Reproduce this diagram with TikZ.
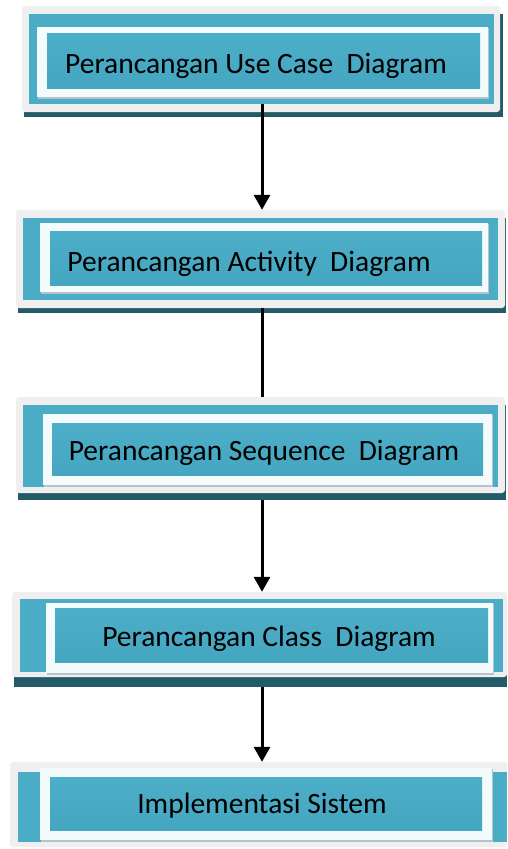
\documentclass[tikz,border=0pt]{standalone}
\usepackage{fontspec}
\setmainfont{Carlito}
\usetikzlibrary{arrows.meta,fit}
\definecolor{frameGray}{HTML}{EFEFEF}
\definecolor{boxBlue}{HTML}{4BACC6}
\definecolor{innerBlue}{HTML}{4DAEC8}
\definecolor{innerBlueDark}{HTML}{44A6C0}
\definecolor{whiteFrame}{HTML}{F3FBFD}
\definecolor{shadowDark}{HTML}{245B69}
\definecolor{softShadow}{HTML}{B4C4C8}
\tikzset{
  grayframe/.style={fill=frameGray, rounded corners=3pt, inner sep=0pt},
  darkshadow/.style={fill=shadowDark},
  bluebox/.style={fill=boxBlue, inner sep=0pt},
  whitebox/.style={fill=whiteFrame, inner sep=0pt},
  innerbox/.style={top color=innerBlue, bottom color=innerBlueDark, inner sep=0pt},
  label/.style={font=\fontsize{29.5}{34}\selectfont, text=black},
  flow/.style={line width=3pt, draw=black},
  tip/.style={-{Triangle[width=16pt,length=15pt]}}
}
\begin{document}
\begin{tikzpicture}[x=1pt,y=-1pt]
\useasboundingbox (0,0) rectangle (507,849);
\fill[white] (0,0) rectangle (507,849);

% Box 1
\fill[darkshadow] (24,14) rectangle (503,117);
\node[grayframe, fit={(22,6)(500,112)}] (g1) {};
\node[bluebox, fit={(29,14)(494,104)}] (b1) {};
\fill[softShadow] (38,28) rectangle (489,99);
\node[whitebox, fit={(37,27)(488,97)}] (w1) {};
\node[innerbox, fit={(47,33)(480,88)}] (i1) {};
\node[label] (t1) at (256,66) {Perancangan Use Case\ \ Diagram};

% Box 2
\fill[darkshadow] (18,218) rectangle (506,313);
\node[grayframe, fit={(16,210)(505,308)}] (g2) {};
\node[bluebox, fit={(23,218)(498,300)}] (b2) {};
\fill[softShadow] (41,224) rectangle (489,294);
\node[whitebox, fit={(40,223)(488,292)}] (w2) {};
\node[innerbox, fit={(50,231)(482,285)}] (i2) {};
\node[label] (t2) at (249,264) {Perancangan Activity\ \ Diagram};

% Box 3
\fill[darkshadow] (18,405) rectangle (506,500);
\node[grayframe, fit={(16,397)(505,493)}] (g3) {};
\node[bluebox, fit={(23,405)(498,487)}] (b3) {};
\fill[softShadow] (44,415) rectangle (493,487);
\node[whitebox, fit={(43,414)(492,485)}] (w3) {};
\node[innerbox, fit={(52,423)(483,475)}] (i3) {};
\node[label] (t3) at (264,453) {Perancangan Sequence\ \ Diagram};

% Box 4
\fill[darkshadow] (14,599) rectangle (507,687);
\node[grayframe, fit={(12,592)(507,677)}] (g4) {};
\node[bluebox, fit={(20,599)(503,672)}] (b4) {};
\fill[softShadow] (47,604) rectangle (494,675);
\node[whitebox, fit={(46,603)(493,673)}] (w4) {};
\node[innerbox, fit={(55,608)(488,662)}] (i4) {};
\node[label] (t4) at (269,639) {Perancangan Class\ \ Diagram};

% Box 5
\node[grayframe, fit={(10,762)(507,847)}] (g5) {};
\node[bluebox, fit={(18,772)(507,842)}] (b5) {};
\fill[softShadow] (41,769) rectangle (493,842);
\node[whitebox, fit={(40,768)(492,840)}] (w5) {};
\node[innerbox, fit={(50,777)(482,830)}] (i5) {};
\node[label] (t5) at (262,806) {Implementasi Sistem};

% Connectors
\draw[flow, tip] (262,0 |- b1.south) -- (262,0 |- g2.north);
\draw[flow] (262,0 |- g2.south) -- (262,0 |- g3.north);
\draw[flow, tip] (262,0 |- g3.south) ++(0,7) -- (262,0 |- g4.north);
\draw[flow, tip] (262,0 |- g4.south) ++(0,10) -- (262,0 |- g5.north);
\end{tikzpicture}
\end{document}
